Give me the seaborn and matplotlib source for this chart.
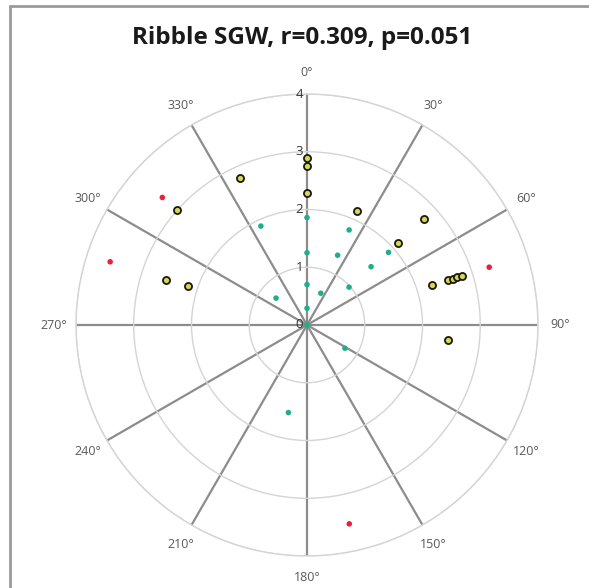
import numpy as np
import pandas as pd
import matplotlib
matplotlib.use("Agg")
import matplotlib.pyplot as plt
import seaborn as sns

# Values (angle in degrees clockwise from north, radius)
teal_angle = [0, 0, 0, 0, 0, 335, 311, 23.5, 23.7, 23.9, 48, 47.7, 48.3, 121.5, 192]
teal_radius = [1.86, 1.25, 0.70, 0.29, 0.0, 1.89, 0.71, 0.60, 1.32, 1.80, 0.98, 1.50, 1.89, 0.77, 1.55]

yellow_angle = [0, 0, 0, 335.5, 311.6, 23.8, 47.9, 48.0, 72.3, 72.3, 72.4, 72.4, 72.4, 96, 287.7, 288]
yellow_radius = [2.90, 2.75, 2.28, 2.80, 3.00, 2.16, 2.73, 2.13, 2.28, 2.57, 2.66, 2.73, 2.81, 2.46, 2.56, 2.16]

red_angle = [311.4, 287.8, 72.4, 168]
red_radius = [3.34, 3.58, 3.31, 3.52]

radial_ticks = [0, 1, 2, 3, 4]
angle_ticks = list(range(0, 360, 30))
angle_labels = [f"{a}°" for a in angle_ticks]

title = "Ribble SGW, r=0.309, p=0.051"

sns.set_style("white")
plt.rcParams["font.family"] = ["Open Sans", "DejaVu Sans"]

fig = plt.figure(figsize=(5.89, 5.88), dpi=100)
ax = fig.add_axes([76 / 589, 32 / 588, 462 / 589, 462 / 588], projection="polar")
ax.set_theta_zero_location("N")
ax.set_theta_direction(-1)

# circles and spokes
ax.set_ylim(0, 4)
ax.set_yticks(radial_ticks)
ax.set_yticklabels([])
ax.set_xticks(np.deg2rad(angle_ticks))
ax.set_xticklabels([])
ax.yaxis.grid(True, color="#d4d4d4", linewidth=1.0)
ax.xaxis.grid(True, color="#8c8c8c", linewidth=1.6)
ax.spines["polar"].set_color("#d4d4d4")
ax.spines["polar"].set_linewidth(1.0)

# data
teal = pd.DataFrame({"theta": np.deg2rad(teal_angle), "r": teal_radius})
yellow = pd.DataFrame({"theta": np.deg2rad(yellow_angle), "r": yellow_radius})
red = pd.DataFrame({"theta": np.deg2rad(red_angle), "r": red_radius})

sns.scatterplot(data=teal, x="theta", y="r", ax=ax, color="#1fae8c", s=16,
                edgecolor="none", zorder=3, clip_on=False)
sns.scatterplot(data=yellow, x="theta", y="r", ax=ax, color="#d6d65a", s=26,
                edgecolor="#1a1a0a", linewidth=1.3, zorder=3, clip_on=False)
sns.scatterplot(data=red, x="theta", y="r", ax=ax, color="#e8203c", s=16,
                edgecolor="none", zorder=3, clip_on=False)
ax.set_xlabel("")
ax.set_ylabel("")

# radial labels left of the 0 degree spoke
for r in radial_ticks:
    ax.annotate(str(r), xy=(0, r), xytext=(-3, 0), textcoords="offset points",
                ha="right", va="center", fontsize=9.5, color="#333333")

# angle labels outside the outer circle
for a, lab in zip(angle_ticks, angle_labels):
    ax.text(np.deg2rad(a), 4.38, lab, ha="center", va="center",
            fontsize=9, color="#595959")

fig.text(0.513, 0.935, title, ha="center", va="center", fontsize=17.5,
         fontweight="bold", color="#1a1a1a")

# chart frame (left and top edges visible)
fig.add_artist(plt.Line2D([10 / 589, 10 / 589], [0, 1 - 6 / 588],
                          transform=fig.transFigure, color="#9a9a9a", linewidth=2))
fig.add_artist(plt.Line2D([10 / 589, 1], [1 - 6 / 588, 1 - 6 / 588],
                          transform=fig.transFigure, color="#9a9a9a", linewidth=2))

fig.savefig("out.png", dpi=100)
